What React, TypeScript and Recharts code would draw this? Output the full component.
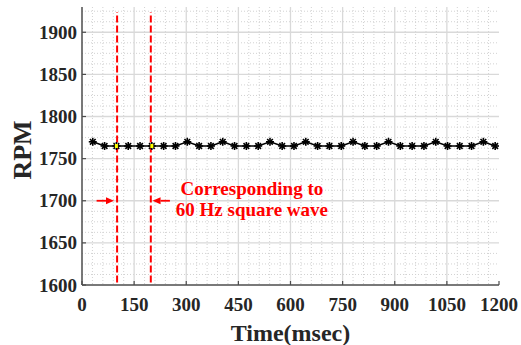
import React from 'react'
import {
  LineChart,
  Line,
  XAxis,
  YAxis,
  CartesianGrid,
  ReferenceLine,
  ReferenceDot,
  Label,
} from 'recharts'

// speed samples (one per revolution)
const timeMs = [
  31, 65, 99, 133, 167, 201, 235, 269, 303, 337, 371, 405, 439, 473, 507, 541, 576, 610,
  644, 678, 712, 746, 780, 814, 848, 882, 916, 950, 984, 1018, 1052, 1087, 1121, 1155, 1189,
]
const rpm = [
  1770, 1765, 1765, 1765, 1765, 1765, 1765, 1765, 1770, 1765, 1765, 1770, 1765, 1765, 1765, 1770, 1765, 1765,
  1770, 1765, 1765, 1765, 1770, 1765, 1765, 1770, 1765, 1765, 1765, 1770, 1765, 1765, 1765, 1770, 1765,
]
const highlighted = [2, 5]

const xTicks = [0, 150, 300, 450, 600, 750, 900, 1050, 1200]
const yTicks = [1600, 1650, 1700, 1750, 1800, 1850, 1900]
const xMajorGrid = [150, 300, 450, 600, 750, 900, 1050]
const yMajorGrid = [1650, 1700, 1750, 1800, 1850, 1900]

// annotation
const dashedAt = [101, 198]
const dashedRange = [1603, 1924]
const arrowFrom = [42, 253]
const arrowTo = [92, 203]
const arrowLevel = 1700
const noteText = ['Corresponding to', '60 Hz square wave']
const noteAt = { x: 489, y: 1700 }

const data = timeMs.map((t, i) => ({ t, rpm: rpm[i], hl: highlighted.includes(i) }))

const xMinor: number[] = []
for (let v = 30; v < 1200; v += 30) if (v % 150 !== 0) xMinor.push(v)
const yMinor: number[] = []
for (let v = 1612.5; v <= 1925; v += 12.5) if (v % 50 !== 0) yMinor.push(v)

const FONT = '"Liberation Serif", "Times New Roman", Times, serif'
const AXIS = '#4d4d4d'
const RED = '#ff0000'
const TXT = '#262626'

const tickStyle = { fontFamily: FONT, fontWeight: 700, fontSize: 19, fill: TXT }

function BottomTick({ x, y, payload }: any) {
  return (
    <g>
      <line x1={x} y1={y} x2={x} y2={y - 4} stroke={AXIS} strokeWidth={1.2} />
      <text x={x} y={y + 26} textAnchor="middle" style={tickStyle}>
        {payload.value}
      </text>
    </g>
  )
}

function LeftTick({ x, y, payload }: any) {
  return (
    <g>
      <line x1={x} y1={y} x2={x + 4} y2={y} stroke={AXIS} strokeWidth={1.2} />
      <text x={x - 5} y={y + 6.5} textAnchor="end" style={tickStyle}>
        {payload.value}
      </text>
    </g>
  )
}

function TopTick({ x, y }: any) {
  return <line x1={x} y1={y} x2={x} y2={y + 4} stroke={AXIS} strokeWidth={1.2} />
}

function RightTick({ x, y }: any) {
  return <line x1={x} y1={y} x2={x - 4} y2={y} stroke={AXIS} strokeWidth={1.2} />
}

function StarDot({ cx, cy, payload }: any) {
  if (cx == null || cy == null) return null
  const r = 4
  const d = r * 0.7071
  return (
    <g>
      <line x1={cx - r} y1={cy} x2={cx + r} y2={cy} stroke="#000" strokeWidth={1.6} />
      <line x1={cx} y1={cy - r} x2={cx} y2={cy + r} stroke="#000" strokeWidth={1.6} />
      <line x1={cx - d} y1={cy - d} x2={cx + d} y2={cy + d} stroke="#000" strokeWidth={1.6} />
      <line x1={cx - d} y1={cy + d} x2={cx + d} y2={cy - d} stroke="#000" strokeWidth={1.6} />
      {payload && payload.hl ? <rect x={cx - 1.5} y={cy - 2} width={3} height={4} fill="#ffff00" /> : null}
    </g>
  )
}

function Arrow(p: any) {
  const { x1, y1, x2, y2 } = p
  const dir = x2 > x1 ? 1 : -1
  const head = 8
  return (
    <g>
      <line x1={x1} y1={y1} x2={x2 - dir * head} y2={y2} stroke={RED} strokeWidth={1.8} />
      <polygon points={`${x2},${y2} ${x2 - dir * head},${y2 - 3.5} ${x2 - dir * head},${y2 + 3.5}`} fill={RED} />
    </g>
  )
}

function Note({ cx, cy }: any) {
  return (
    <text textAnchor="middle" style={{ fontFamily: FONT, fontWeight: 700, fontSize: 19, fill: RED }}>
      <tspan x={cx} y={cy - 6}>{noteText[0]}</tspan>
      <tspan x={cx} y={cy + 15}>{noteText[1]}</tspan>
    </text>
  )
}

export default function App() {
  return (
    <div style={{ position: 'absolute', left: 0, top: 0, width: 521, height: 345, background: '#fff' }}>
      <LineChart width={521} height={345} data={data} margin={{ top: 7, right: 22, left: 0, bottom: 0 }}>
        <CartesianGrid
          horizontalValues={yMinor}
          verticalValues={xMinor}
          stroke="#d2d2d2"
          strokeDasharray="1 2"
          strokeWidth={1}
        />
        <CartesianGrid
          horizontalValues={yMajorGrid}
          verticalValues={xMajorGrid}
          stroke="#d9d9d9"
          strokeWidth={1.3}
        />
        <XAxis
          dataKey="t"
          type="number"
          domain={[0, 1200]}
          ticks={xTicks}
          interval={0}
          height={60}
          tickSize={0}
          tickMargin={0}
          tick={<BottomTick />}
          axisLine={{ stroke: AXIS, strokeWidth: 1.5 }}
          allowDataOverflow
        >
          <Label
            value="Time(msec)"
            position="insideBottom"
            offset={4}
            style={{ fontFamily: FONT, fontWeight: 700, fontSize: 24, fill: TXT }}
          />
        </XAxis>
        <XAxis
          xAxisId="top"
          dataKey="t"
          type="number"
          orientation="top"
          domain={[0, 1200]}
          ticks={xTicks}
          interval={0}
          height={0}
          tickSize={0}
          tickMargin={0}
          tick={<TopTick />}
          axisLine={{ stroke: AXIS, strokeWidth: 1.5 }}
          allowDataOverflow
        />
        <YAxis
          type="number"
          domain={[1600, 1930]}
          ticks={yTicks}
          interval={0}
          width={82}
          tickSize={0}
          tickMargin={0}
          tick={<LeftTick />}
          axisLine={{ stroke: AXIS, strokeWidth: 1.5 }}
          allowDataOverflow
        >
          <Label
            content={({ viewBox }: any) => {
              const cx = 22
              const cy = viewBox ? viewBox.y + viewBox.height / 2 + 4 : 150
              return (
                <text
                  x={cx}
                  y={cy}
                  transform={`rotate(-90, ${cx}, ${cy})`}
                  textAnchor="middle"
                  dominantBaseline="central"
                  style={{ fontFamily: FONT, fontWeight: 700, fontSize: 26, fill: TXT }}
                >
                  RPM
                </text>
              )
            }}
          />
        </YAxis>
        <YAxis
          yAxisId="right"
          orientation="right"
          type="number"
          domain={[1600, 1930]}
          ticks={yTicks}
          interval={0}
          width={0}
          tickSize={0}
          tickMargin={0}
          tick={<RightTick />}
          axisLine={{ stroke: AXIS, strokeWidth: 1.5 }}
          allowDataOverflow
        />
        <Line
          dataKey="rpm"
          stroke="#000"
          strokeWidth={1.6}
          dot={<StarDot />}
          activeDot={false}
          isAnimationActive={false}
        />
        {dashedAt.map((x) => (
          <ReferenceLine
            key={`d${x}`}
            segment={[
              { x, y: dashedRange[0] },
              { x, y: dashedRange[1] },
            ]}
            stroke={RED}
            strokeWidth={2}
            strokeDasharray="7 3"
          />
        ))}
        {arrowFrom.map((x, i) => (
          <ReferenceLine
            key={`a${i}`}
            segment={[
              { x, y: arrowLevel },
              { x: arrowTo[i], y: arrowLevel },
            ]}
            shape={(p: any) => <Arrow {...p} />}
          />
        ))}
        <ReferenceDot x={noteAt.x} y={noteAt.y} r={0} shape={(p: any) => <Note {...p} />} />
      </LineChart>
    </div>
  )
}
